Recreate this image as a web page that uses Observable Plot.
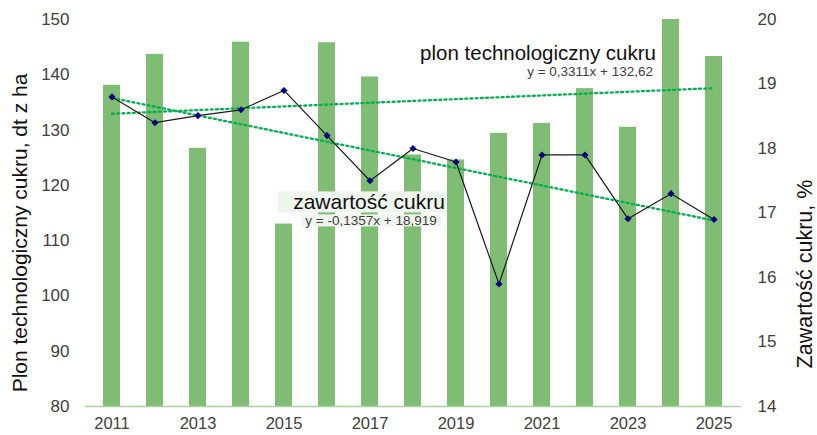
<!DOCTYPE html>
<html>
<head>
<meta charset="utf-8">
<script src="https://cdn.jsdelivr.net/npm/d3@7"></script>
<script src="https://cdn.jsdelivr.net/npm/@observablehq/plot@0.6"></script>
<style>
  html, body { margin: 0; padding: 0; background: #fff; }
  #chart { width: 817px; height: 435px; }
</style>
</head>
<body>
<div id="chart"></div>
<script>
// ---- data ----
const years = [2011, 2012, 2013, 2014, 2015, 2016, 2017, 2018, 2019, 2020, 2021, 2022, 2023, 2024, 2025];
const yieldValues = [138.1, 143.7, 126.7, 145.9, 113.0, 145.8, 139.6, 125.5, 124.6, 129.4, 131.2, 137.5, 130.5, 150.0, 143.3];
const sugarContent = [18.80, 18.40, 18.51, 18.60, 18.90, 18.20, 17.50, 18.00, 17.79, 15.90, 17.90, 17.90, 16.91, 17.30, 16.90];
const xTickYears = [2011, 2013, 2015, 2017, 2019, 2021, 2023, 2025];
const leftTicks = [80, 90, 100, 110, 120, 130, 140, 150];
const rightTicks = [14, 15, 16, 17, 18, 19, 20];
// trend line equations shown on the chart (x = 1..15)
const yieldTrend = {a: 0.3311, b: 132.62, label: "y = 0,3311x + 132,62"};
const sugarTrend = {a: -0.1357, b: 18.919, label: "y = -0,1357x + 18,919"};

// ---- dual axis mapping ----
const leftDomain = [80, 150];
const rightDomain = [14, 20];
const toLeft = v => leftDomain[0] + (v - rightDomain[0]) * (leftDomain[1] - leftDomain[0]) / (rightDomain[1] - rightDomain[0]);
const fromLeft = v => rightDomain[0] + (v - leftDomain[0]) * (rightDomain[1] - rightDomain[0]) / (leftDomain[1] - leftDomain[0]);

const rows = years.map((year, i) => ({year, yield: yieldValues[i], sugar: sugarContent[i]}));
const ends = [0, years.length - 1];
const yieldTrendData = ends.map(i => ({year: years[i], v: yieldTrend.a * (i + 1) + yieldTrend.b}));
const sugarTrendData = ends.map(i => ({year: years[i], v: toLeft(sugarTrend.a * (i + 1) + sugarTrend.b)}));

const GREEN_BAR = "#80bd74";
const TREND = "#00b050";
const TXT = "#404040";

const chart = Plot.plot({
  width: 817,
  height: 435,
  marginLeft: 85,
  marginRight: 76,
  marginTop: 19,
  marginBottom: 29,
  style: {fontFamily: "'Liberation Sans', Arial, sans-serif", fontSize: "17px", color: TXT, background: "#fff"},
  x: {type: "band", domain: years, paddingInner: 0.6, paddingOuter: 0.3, axis: null},
  y: {domain: leftDomain, axis: null},
  marks: [
    Plot.barY(rows, {x: "year", y1: leftDomain[0], y2: "yield", fill: GREEN_BAR}),
    Plot.ruleY([leftDomain[0]], {stroke: "#a9d49c", strokeWidth: 1.5}),
    Plot.line(yieldTrendData, {x: "year", y: "v", stroke: TREND, strokeWidth: 2.3, strokeDasharray: "2,3.2"}),
    Plot.line(sugarTrendData, {x: "year", y: "v", stroke: TREND, strokeWidth: 2.3, strokeDasharray: "2,3.2"}),
    Plot.line(rows, {x: "year", y: d => toLeft(d.sugar), stroke: "#1a1a1a", strokeWidth: 1.2}),
    Plot.dot(rows, {x: "year", y: d => toLeft(d.sugar), symbol: "diamond2", r: 3.2, fill: "#000080", stroke: "none"}),
    Plot.axisX(xTickYears, {anchor: "bottom", tickSize: 0, tickPadding: 11, label: null, fontSize: 16.5, tickFormat: d => String(d)}),
    Plot.axisY(leftTicks, {anchor: "left", tickSize: 0, tickPadding: 16, label: null, fontSize: 17}),
    Plot.axisY(rightTicks.map(toLeft), {anchor: "right", tickSize: 0, tickPadding: 16, label: null, fontSize: 17,
      tickFormat: v => String(Math.round(fromLeft(v)))}),
    // axis titles
    Plot.text(["Plon technologiczny cukru, dt z ha"], {frameAnchor: "left", textAnchor: "middle", rotate: -90, dx: -65, dy: 20, fontSize: 21, fill: "#111", text: d => d}),
    Plot.text(["Zawartość cukru, %"], {frameAnchor: "right", textAnchor: "middle", rotate: -90, dx: 64, dy: 61, fontSize: 21.5, fill: "#111", text: d => d}),
    // trend annotations
    Plot.text([{year: 2024, v: 143.9}], {x: "year", y: "v", text: () => "plon technologiczny cukru", textAnchor: "end", dx: -15, fontSize: 20.5, fill: "#111"}),
    Plot.text([{year: 2024, v: 140.5}], {x: "year", y: "v", text: () => yieldTrend.label, textAnchor: "end", dx: -18, fontSize: 13.5, fill: TXT}),
    Plot.text([{year: 2017, v: toLeft(17.16)}], {x: "year", y: "v", text: () => "zawartość cukru", textAnchor: "middle", dx: -1, fontSize: 21, fill: "#111", className: "boxlabel-a"}),
    Plot.text([{year: 2017, v: toLeft(16.875)}], {x: "year", y: "v", text: () => sugarTrend.label, textAnchor: "middle", dx: 1, fontSize: 13.5, fill: TXT, className: "boxlabel-b"})
  ]
});

document.getElementById("chart").appendChild(chart);

// background boxes behind the sugar-content annotation
function boxBehind(cls, padL, padR, padT, padB) {
  const g = chart.querySelector("g." + cls);
  if (!g) return;
  const t = g.querySelector("text");
  const bb = t.getBBox();
  const ns = "http://www.w3.org/2000/svg";
  const r = document.createElementNS(ns, "rect");
  r.setAttribute("x", bb.x - padL);
  r.setAttribute("y", bb.y - padT);
  r.setAttribute("width", bb.width + padL + padR);
  r.setAttribute("height", bb.height + padT + padB);
  r.setAttribute("fill", "#eef5ec");
  const tr = t.getAttribute("transform");
  if (tr) r.setAttribute("transform", tr);
  g.insertBefore(r, t);
}
boxBehind("boxlabel-a", 15, 1, -1, -1);
boxBehind("boxlabel-b", 4, 4, -1, -2);
</script>
</body>
</html>
